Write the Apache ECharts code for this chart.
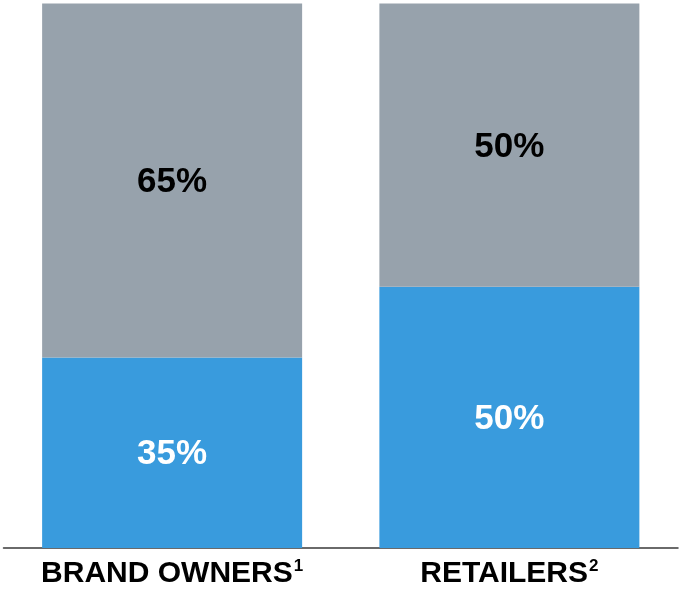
<!DOCTYPE html>
<html>
<head>
<meta charset="utf-8">
<script src="https://cdn.jsdelivr.net/npm/echarts@6/dist/echarts.min.js"></script>
<style>html,body{margin:0;padding:0;background:#fff}#c{width:679px;height:591px}</style>
</head>
<body>
<div id="c"></div>
<script>
const categories = ['BRAND OWNERS', 'RETAILERS'];
const footnotes = ['1', '2'];
const lowerValues = [35, 48];
const upperValues = [65, 52];
const lowerLabels = ['35%', '50%'];
const upperLabels = ['65%', '50%'];

const chart = echarts.init(document.getElementById('c'));
chart.setOption({
  animation: false,
  grid: { left: 3.5, right: 1, top: 3.5, bottom: 43 },
  xAxis: {
    type: 'category',
    data: categories,
    axisTick: { show: false },
    axisLine: { lineStyle: { color: '#3a3a3a', width: 1.5 } },
    axisLabel: {
      margin: 10,
      formatter: function (v, i) { return '{a|' + v + '}{s|' + footnotes[i] + '}'; },
      rich: {
        a: { fontFamily: 'Liberation Sans, Arial', fontWeight: 'bold', fontSize: 30, color: '#000', lineHeight: 32 },
        s: { fontFamily: 'Liberation Sans, Arial', fontWeight: 'bold', fontSize: 17, color: '#000', verticalAlign: 'top', lineHeight: 32, padding: [0, 0, 14, 1] }
      }
    }
  },
  yAxis: { type: 'value', min: 0, max: 100, show: false, splitLine: { show: false } },
  series: [
    {
      type: 'bar', stack: 't', data: lowerValues, barWidth: 260,
      itemStyle: { color: '#399bdd' },
      label: { show: true, position: 'inside', offset: [0, 2], formatter: p => lowerLabels[p.dataIndex],
        fontFamily: 'Liberation Sans, Arial', fontWeight: 'bold', fontSize: 35, color: '#fff' }
    },
    {
      type: 'bar', stack: 't', data: upperValues, barWidth: 260,
      itemStyle: { color: '#97a2ac' },
      label: { show: true, position: 'inside', offset: [0, 2], formatter: p => upperLabels[p.dataIndex],
        fontFamily: 'Liberation Sans, Arial', fontWeight: 'bold', fontSize: 35, color: '#000' }
    }
  ]
});
</script>
</body>
</html>
